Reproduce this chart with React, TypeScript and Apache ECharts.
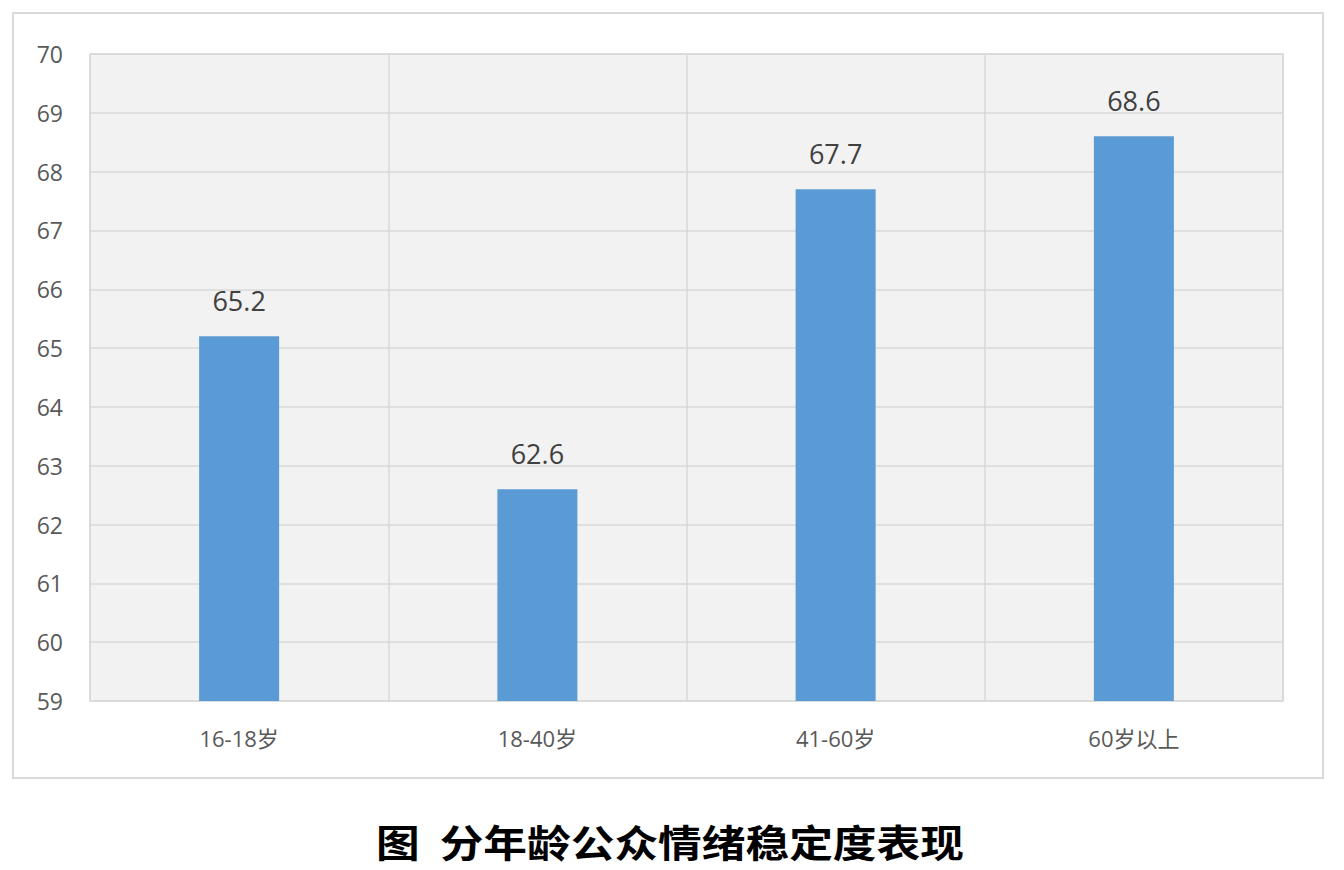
import React, { useEffect, useRef } from "react";
import * as echarts from "echarts";

const categories = ["16-18岁", "18-40岁", "41-60岁", "60岁以上"];
const scores = [65.2, 62.6, 67.7, 68.6];
const yMin = 59;
const yMax = 70;
const chartTitle = "图  分年龄公众情绪稳定度表现";

const App: React.FC = () => {
  const chartRef = useRef<HTMLDivElement>(null);

  useEffect(() => {
    const myChart = echarts.init(chartRef.current!, null, { renderer: "svg" });
    const option: echarts.EChartsOption = {
      animation: false,
      backgroundColor: "#ffffff",
      textStyle: { fontFamily: "'Open Sans', 'Noto Sans CJK SC', sans-serif" },
      grid: {
        left: 90,
        top: 54,
        width: 1193,
        height: 647,
        show: true,
        backgroundColor: "#f2f2f2",
        borderColor: "#d9d9d9",
        borderWidth: 1.5,
      },
      xAxis: {
        type: "category",
        data: categories,
        axisLine: { show: false },
        axisTick: { show: false },
        splitLine: { show: true, lineStyle: { color: "#d9d9d9", width: 1.5 } },
        axisLabel: {
          color: "#595959",
          fontSize: 22,
          margin: 26,
        },
      },
      yAxis: {
        type: "value",
        min: yMin,
        max: yMax,
        interval: 1,
        axisLine: { show: false },
        axisTick: { show: false },
        splitLine: { lineStyle: { color: "#d9d9d9", width: 1.5 } },
        axisLabel: {
          color: "#595959",
          fontSize: 23,
          margin: 27,
        },
      },
      series: [
        {
          type: "bar",
          data: scores,
          barWidth: 80,
          itemStyle: { color: "#5b9bd5" },
          label: {
            show: true,
            position: "top",
            distance: 22,
            color: "#404040",
            fontSize: 27,
          },
        },
      ],
      graphic: [
        {
          type: "rect",
          shape: { x: 13, y: 13, width: 1310, height: 765 },
          style: { fill: "none", stroke: "#d9d9d9", lineWidth: 2 },
          silent: true,
        },
        {
          type: "text",
          x: 670,
          y: 841,
          scaleX: 1.15,
          style: {
            text: chartTitle,
            fontSize: 38,
            fontWeight: "bold",
            fontFamily: "'Noto Sans CJK SC', serif",
            fill: "#000000",
            align: "center",
            verticalAlign: "middle",
          },
        },
      ],
    };
    myChart.setOption(option);

    return () => {
      myChart.dispose();
    };
  }, []);

  return (
    <div
      ref={chartRef}
      style={{ position: "absolute", left: 0, top: 0, width: "1344px", height: "870px" }}
    />
  );
};

export default App;
